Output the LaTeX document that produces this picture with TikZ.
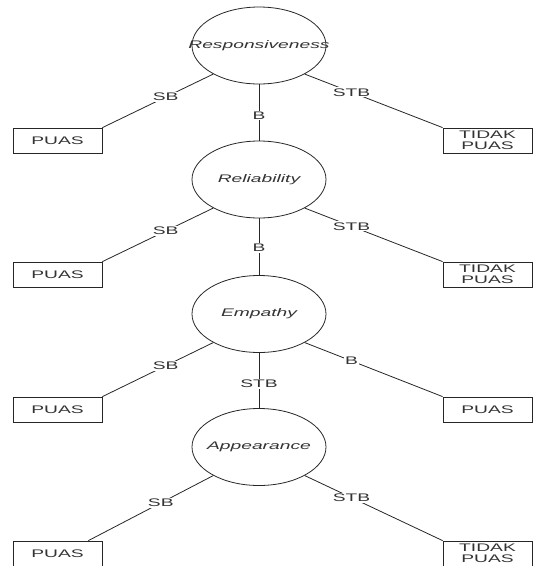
\documentclass[tikz,border=0pt]{standalone}
\usepackage{fontspec}
\setmainfont{Liberation Sans}[FakeStretch=1.75]
\usetikzlibrary{shapes.geometric}
\begin{document}
\begin{tikzpicture}[x=1pt,y=-1pt,
  ell/.style={ellipse,draw=black!85,line width=0.8pt,minimum width=134pt,minimum height=77pt,inner sep=0pt},
  elltext/.style={inner sep=0pt,font=\fontsize{11}{12}\selectfont\itshape,text=black!80},
  box/.style={rectangle,draw=black!85,line width=0.8pt,minimum width=89pt,minimum height=25pt,inner sep=0pt,align=center,font=\fontsize{11}{11}\selectfont,text=black!80},
  lbl/.style={fill=white,inner sep=1pt,font=\fontsize{11}{12}\selectfont,text=black!80},
  conn/.style={draw=black!85,line width=0.8pt}]
\useasboundingbox (0,0) rectangle (533,566);
% ellipses
\node[ell,label={[elltext]center:Responsiveness}] (r1) at (259,45.5) {};
\node[ell,label={[elltext]center:Reliability}] (r2) at (259,179.5) {};
\node[ell,label={[elltext]center:Empathy}] (r3) at (259,314) {};
\node[ell,label={[elltext]center:Appearance}] (r4) at (259,447) {};
% boxes
\node[box] (p1) at (57.5,140.5) {PUAS};
\node[box] (t1) at (487.5,140.5) {TIDAK\\PUAS};
\node[box] (p2) at (57.5,274.5) {PUAS};
\node[box] (t2) at (487.5,274.5) {TIDAK\\PUAS};
\node[box] (p3) at (57.5,409.5) {PUAS};
\node[box] (q3) at (487.5,409.5) {PUAS};
\node[box] (p4) at (57.5,553.5) {PUAS};
\node[box] (t4) at (487.5,553.5) {TIDAK\\PUAS};
% connectors row 1
\draw[conn] (r1.212) -- node[lbl,pos=0.43] {SB} (p1.north east);
\draw[conn] (r1.-32) -- node[lbl,pos=0.34] {STB} (t1.north west);
\draw[conn] (r1.south) -- node[lbl,pos=0.55] {B} (r2.north);
% row 2
\draw[conn] (r2.212) -- node[lbl,pos=0.43] {SB} (p2.north east);
\draw[conn] (r2.-32) -- node[lbl,pos=0.34] {STB} (t2.north west);
\draw[conn] (r2.south) -- node[lbl,pos=0.52] {B} (r3.north);
% row 3
\draw[conn] (r3.212) -- node[lbl,pos=0.43] {SB} (p3.north east);
\draw[conn] (r3.-32) -- node[lbl,pos=0.34] {B} (q3.north west);
\draw[conn] (r3.south) -- node[lbl,pos=0.56] {STB} (r4.north);
% row 4
\draw[conn] (r4.212) -- node[lbl,pos=0.42] {SB} ([xshift=-14pt]p4.north east);
\draw[conn] (r4.-32) -- node[lbl,pos=0.34] {STB} (t4.north west);
\end{tikzpicture}
\end{document}
